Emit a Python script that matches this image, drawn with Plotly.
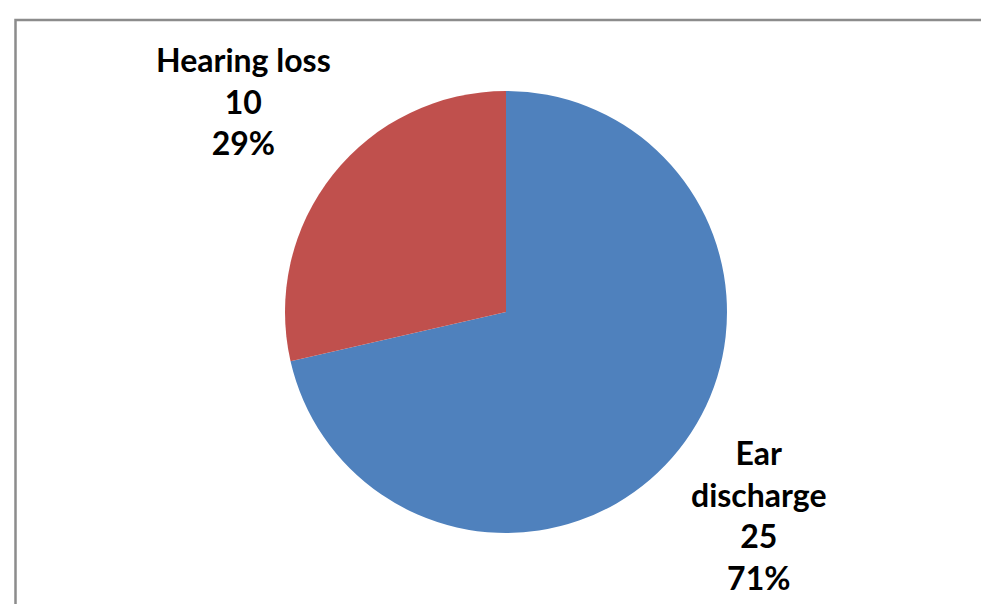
import plotly.graph_objects as go

categories = ["Ear discharge", "Hearing loss"]
display_labels = ["Ear<br>discharge", "Hearing loss"]
counts = [25, 10]
colors = ["#4F81BD", "#C0504D"]

W, H = 989, 604
cx, cy, r = 498, 304, 221  # pixel centre/radius of pie domain

total = sum(counts)
label_pos = {"Ear discharge": (751, 507), "Hearing loss": (235, 93)}

fig = go.Figure(
    go.Pie(
        labels=categories,
        values=counts,
        textinfo="none",
        marker=dict(colors=colors, line=dict(color="white", width=0)),
        sort=False,
        direction="clockwise",
        rotation=0,
        showlegend=False,
        hoverinfo="label+value+percent",
        domain=dict(
            x=[(cx - r) / W, (cx + r) / W],
            y=[(H - cy - r) / H, (H - cy + r) / H],
        ),
    )
)

annotations = []
for name, disp, v in zip(categories, display_labels, counts):
    px, py = label_pos[name]
    annotations.append(
        dict(
            text=f"{disp}<br>{v}<br>{round(100 * v / total)}%",
            x=px / W,
            y=1 - py / H,
            xref="paper",
            yref="paper",
            xanchor="center",
            yanchor="middle",
            showarrow=False,
            align="center",
            font=dict(family="Lato", size=32, color="black", weight="bold"),
        )
    )

fig.update_layout(
    width=W,
    height=H,
    margin=dict(l=0, r=0, t=0, b=0),
    paper_bgcolor="white",
    plot_bgcolor="white",
    annotations=annotations,
    shapes=[
        dict(
            type="rect",
            xref="paper",
            yref="paper",
            x0=7.5 / W,
            x1=1.05,
            y0=-0.05,
            y1=1 - 12 / H,
            line=dict(color="#8c8c8c", width=2.5),
            fillcolor="rgba(0,0,0,0)",
            layer="below",
        )
    ],
)

fig.write_html("out.html")
